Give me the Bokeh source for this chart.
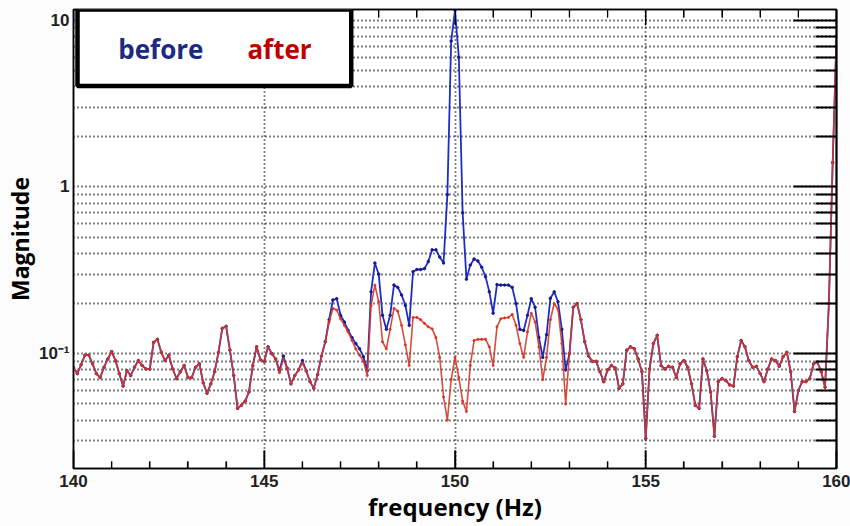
import math
from bokeh.plotting import figure
from bokeh.models import (FixedTicker, LogAxis, LinearAxis, BoxAnnotation, Label,
                          CustomJSTickFormatter, Range1d)
from bokeh.embed import file_html
from bokeh.resources import INLINE

# frequency grid (Hz), 0.1 Hz bins
freq = [round(140 + 0.1 * i, 1) for i in range(201)]

after = [
    0.083, 0.076, 0.086, 0.098, 0.098, 0.087, 0.076, 0.072, 0.083, 0.093,
    0.103, 0.091, 0.076, 0.064, 0.079, 0.074, 0.083, 0.091, 0.085, 0.081,
    0.081, 0.117, 0.122, 0.102, 0.091, 0.098, 0.081, 0.071, 0.078, 0.085,
    0.072, 0.072, 0.083, 0.087, 0.067, 0.058, 0.066, 0.078, 0.102, 0.142,
    0.146, 0.105, 0.074, 0.047, 0.049, 0.052, 0.059, 0.085, 0.110, 0.092,
    0.090, 0.110, 0.100, 0.093, 0.077, 0.093, 0.082, 0.066, 0.074, 0.080,
    0.088, 0.079, 0.068, 0.062, 0.075, 0.097, 0.118, 0.155, 0.187, 0.183,
    0.162, 0.148, 0.135, 0.120, 0.107, 0.098, 0.090, 0.074, 0.195, 0.258,
    0.205, 0.118, 0.107, 0.140, 0.187, 0.180, 0.148, 0.113, 0.085, 0.165,
    0.165, 0.160, 0.152, 0.145, 0.141, 0.125, 0.095, 0.055, 0.040, 0.070,
    0.095, 0.072, 0.052, 0.045, 0.085, 0.120, 0.122, 0.122, 0.122, 0.110,
    0.085, 0.145, 0.162, 0.164, 0.165, 0.172, 0.148, 0.115, 0.095, 0.135,
    0.175, 0.155, 0.110, 0.070, 0.095, 0.160, 0.200, 0.185, 0.115, 0.050,
    0.100, 0.190, 0.200, 0.160, 0.118, 0.097, 0.090, 0.090, 0.078, 0.068,
    0.080, 0.085, 0.082, 0.062, 0.066, 0.105, 0.110, 0.107, 0.093, 0.078,
    0.031, 0.081, 0.115, 0.129, 0.085, 0.081, 0.084, 0.083, 0.072, 0.087,
    0.091, 0.083, 0.066, 0.049, 0.047, 0.093, 0.079, 0.059, 0.032, 0.068,
    0.071, 0.069, 0.065, 0.064, 0.096, 0.120, 0.110, 0.091, 0.083, 0.084,
    0.076, 0.068, 0.081, 0.093, 0.091, 0.084, 0.096, 0.102, 0.078, 0.045,
    0.060, 0.068, 0.068, 0.071, 0.087, 0.089, 0.078, 0.063, 0.200, 1.400,
    8.000,
]

before = [
    0.083, 0.076, 0.086, 0.098, 0.098, 0.087, 0.076, 0.072, 0.083, 0.093,
    0.103, 0.091, 0.076, 0.064, 0.079, 0.074, 0.083, 0.091, 0.085, 0.081,
    0.081, 0.117, 0.122, 0.102, 0.091, 0.098, 0.081, 0.071, 0.078, 0.085,
    0.072, 0.072, 0.083, 0.087, 0.067, 0.058, 0.066, 0.078, 0.102, 0.142,
    0.146, 0.105, 0.074, 0.047, 0.049, 0.052, 0.059, 0.085, 0.110, 0.092,
    0.090, 0.110, 0.100, 0.093, 0.079, 0.097, 0.082, 0.066, 0.074, 0.080,
    0.091, 0.079, 0.068, 0.062, 0.075, 0.097, 0.118, 0.160, 0.210, 0.214,
    0.170, 0.155, 0.138, 0.125, 0.115, 0.107, 0.096, 0.079, 0.235, 0.350,
    0.300, 0.170, 0.140, 0.170, 0.258, 0.250, 0.225, 0.195, 0.148, 0.310,
    0.320, 0.320, 0.324, 0.357, 0.420, 0.420, 0.380, 0.350, 0.900, 7.500,
    11.50, 6.000, 0.700, 0.280, 0.340, 0.370, 0.360, 0.330, 0.290, 0.235,
    0.175, 0.260, 0.258, 0.258, 0.258, 0.250, 0.200, 0.140, 0.138, 0.170,
    0.214, 0.190, 0.125, 0.095, 0.130, 0.215, 0.235, 0.205, 0.140, 0.080,
    0.100, 0.190, 0.200, 0.160, 0.118, 0.097, 0.090, 0.090, 0.078, 0.068,
    0.080, 0.085, 0.082, 0.062, 0.066, 0.105, 0.110, 0.107, 0.093, 0.078,
    0.031, 0.081, 0.115, 0.129, 0.085, 0.081, 0.084, 0.083, 0.072, 0.087,
    0.091, 0.083, 0.066, 0.049, 0.047, 0.093, 0.079, 0.059, 0.032, 0.068,
    0.071, 0.069, 0.065, 0.064, 0.096, 0.120, 0.110, 0.091, 0.083, 0.084,
    0.076, 0.068, 0.081, 0.093, 0.091, 0.084, 0.096, 0.102, 0.078, 0.045,
    0.060, 0.068, 0.068, 0.071, 0.087, 0.089, 0.078, 0.063, 0.200, 1.400,
    8.000,
]

x_ticks = [140, 145, 150, 155, 160]
x_minor = [141, 142, 143, 144, 146, 147, 148, 149, 151, 152, 153, 154,
           156, 157, 158, 159]
y_ticks = [0.1, 1, 10]
y_minor = [0.02, 0.03, 0.04, 0.05, 0.06, 0.07, 0.08, 0.09,
           0.2, 0.3, 0.4, 0.5, 0.6, 0.7, 0.8, 0.9,
           2, 3, 4, 5, 6, 7, 8, 9]

X_START, X_END = 140, 160
Y_START, Y_END = 0.0205, 11.6

BLUE = "#1c2ec4"
RED = "#d13a28"

p = figure(width=850, height=526, x_range=Range1d(X_START, X_END),
           y_range=Range1d(Y_START, Y_END), y_axis_type="log",
           output_backend="svg", toolbar_location=None,
           min_border_left=73, min_border_right=14,
           min_border_top=9, min_border_bottom=58)
p.background_fill_color = "white"
p.border_fill_color = "#fcfcfc"
p.outline_line_color = "black"
p.outline_line_width = 1.5

xt = FixedTicker(ticks=x_ticks, minor_ticks=x_minor)
yt = FixedTicker(ticks=y_ticks, minor_ticks=y_minor)
yfmt = CustomJSTickFormatter(code="""
if (tick > 5) return '10';
if (tick > 0.5) return '1';
return '10\u207b\u00b9';
""")
blank = CustomJSTickFormatter(code="return '';")

xa = p.xaxis[0]
xa.ticker = xt
xa.major_tick_in = 18
xa.major_tick_out = 0
xa.minor_tick_in = 7
xa.minor_tick_out = 0
xa.axis_line_width = 1.5
xa.major_tick_line_color = "black"
xa.minor_tick_line_color = "black"
xa.major_tick_line_width = 1.5
xa.minor_tick_line_width = 1.2
xa.major_label_text_font = "Liberation Sans"
xa.major_label_text_font_style = "bold"
xa.major_label_text_font_size = "17px"
xa.major_label_text_color = "#222222"
xa.major_label_standoff = 6
xa.axis_label = "frequency (Hz)"
xa.axis_label_text_font = "Open Sans"
xa.axis_label_text_font_style = "bold"
xa.axis_label_text_font_size = "24px"
xa.axis_label_text_color = "black"
xa.axis_label_standoff = 0

ya = p.yaxis[0]
ya.ticker = yt
ya.formatter = yfmt
ya.major_tick_in = 0
ya.major_tick_out = 0
ya.minor_tick_in = 0
ya.minor_tick_out = 0
ya.axis_line_width = 1.5
ya.major_label_text_font = "Liberation Sans"
ya.major_label_text_font_style = "bold"
ya.major_label_text_font_size = "17px"
ya.major_label_text_color = "#222222"
ya.major_label_standoff = 4
ya.axis_label = "Magnitude"
ya.axis_label_text_font = "Open Sans"
ya.axis_label_text_font_style = "bold"
ya.axis_label_text_font_size = "23px"
ya.axis_label_text_color = "black"
ya.axis_label_standoff = 0

for g, t in ((p.xgrid[0], xt), (p.ygrid[0], yt)):
    g.ticker = t
    g.grid_line_color = "black"
    g.grid_line_dash = "1 3"
    g.grid_line_width = 1.8
p.ygrid[0].minor_grid_line_color = "black"
p.ygrid[0].minor_grid_line_dash = "1 3"
p.ygrid[0].minor_grid_line_width = 1.8

right = LogAxis(ticker=yt, formatter=blank, major_label_standoff=0,
                major_tick_in=43, major_tick_out=0,
                minor_tick_in=21, minor_tick_out=0, axis_line_width=2,
                major_tick_line_width=2, minor_tick_line_width=2)
p.add_layout(right, "right")
top = LinearAxis(ticker=xt, formatter=blank, major_label_standoff=0,
                 major_tick_in=16, major_tick_out=0,
                 minor_tick_in=8, minor_tick_out=0, axis_line_width=1.5)
p.add_layout(top, "above")

# inward tick marks on the bottom and top edges (half of each dash lies inside the frame)
for yv in (Y_START, Y_END):
    p.scatter(x_ticks, [yv] * len(x_ticks), marker="dash", angle=math.pi / 2,
              size=36 if yv == Y_START else 30, line_color="black", line_width=1.5)
    p.scatter(x_minor, [yv] * len(x_minor), marker="dash", angle=math.pi / 2,
              size=14 if yv == Y_START else 16, line_color="black", line_width=1.3)

p.line(freq, before, line_color=BLUE, line_width=1.8)
p.scatter(freq, before, size=2.5, color="#1a1a90")
p.line(freq, after, line_color=RED, line_width=1.6, line_alpha=0.9)
p.scatter(freq, after, size=2.2, color="#e0301e", alpha=0.8)

# legend box at the top-left corner of the frame
box = BoxAnnotation(left=140.105, right=147.28, bottom=4.04, top=Y_END,
                    fill_color="white", fill_alpha=1.0,
                    line_color="black", line_alpha=1.0, line_width=4.5,
                    level="overlay")
p.add_layout(box)
p.add_layout(Label(x=142.29, y=6.75, text="before", text_font="Open Sans",
                   text_font_style="bold", text_font_size="26px",
                   text_color="#1c2a80", text_align="center",
                   text_baseline="middle", level="overlay"))
p.add_layout(Label(x=145.4, y=6.75, text="after", text_font="Open Sans",
                   text_font_style="bold", text_font_size="26px",
                   text_color="#c00000", text_align="center",
                   text_baseline="middle", level="overlay"))

open("out.html", "w").write(file_html(p, INLINE))
